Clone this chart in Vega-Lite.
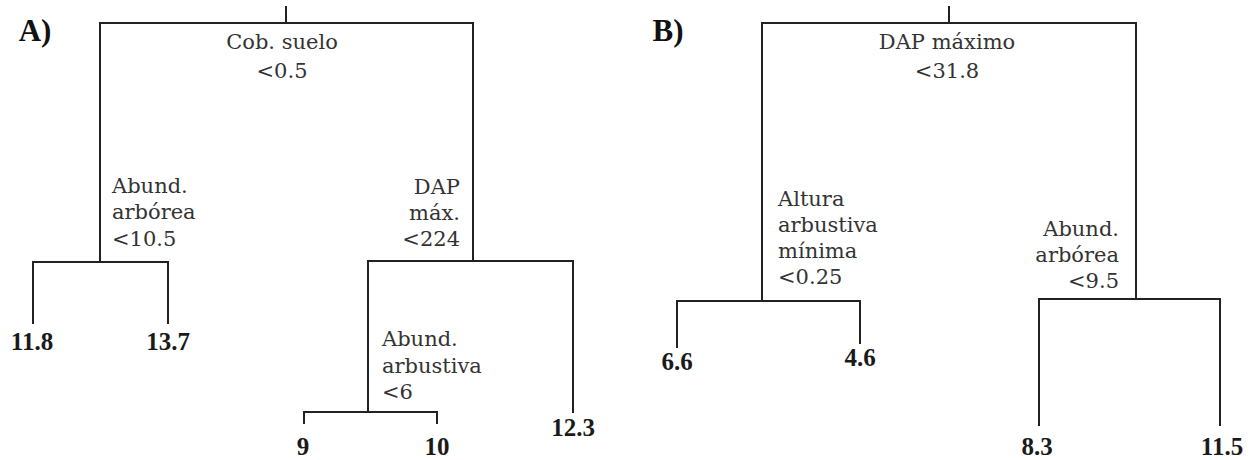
{
  "$schema": "https://vega.github.io/schema/vega-lite/v6.json",
  "width": 1257,
  "height": 460,
  "padding": 0,
  "autosize": {"type": "none"},
  "background": "white",
  "config": {"view": {"stroke": null}},
  "datasets": {
    "edges": [
      {"tree": "A", "x": 286, "x2": 286, "y": 7, "y2": 23},
      {"tree": "A", "x": 100, "x2": 473, "y": 23, "y2": 23},
      {"tree": "A", "x": 100, "x2": 100, "y": 23, "y2": 262},
      {"tree": "A", "x": 473, "x2": 473, "y": 23, "y2": 261},
      {"tree": "A", "x": 33, "x2": 168, "y": 262, "y2": 262},
      {"tree": "A", "x": 33, "x2": 33, "y": 262, "y2": 323},
      {"tree": "A", "x": 168, "x2": 168, "y": 262, "y2": 323},
      {"tree": "A", "x": 368, "x2": 573, "y": 261, "y2": 261},
      {"tree": "A", "x": 573, "x2": 573, "y": 261, "y2": 412},
      {"tree": "A", "x": 368, "x2": 368, "y": 261, "y2": 412},
      {"tree": "A", "x": 304, "x2": 437, "y": 412, "y2": 412},
      {"tree": "A", "x": 304, "x2": 304, "y": 412, "y2": 423},
      {"tree": "A", "x": 437, "x2": 437, "y": 412, "y2": 423},
      {"tree": "B", "x": 949, "x2": 949, "y": 7, "y2": 23},
      {"tree": "B", "x": 762, "x2": 1136, "y": 23, "y2": 23},
      {"tree": "B", "x": 762, "x2": 762, "y": 23, "y2": 301},
      {"tree": "B", "x": 1136, "x2": 1136, "y": 23, "y2": 299},
      {"tree": "B", "x": 677, "x2": 860, "y": 301, "y2": 301},
      {"tree": "B", "x": 677, "x2": 677, "y": 301, "y2": 347},
      {"tree": "B", "x": 860, "x2": 860, "y": 301, "y2": 343},
      {"tree": "B", "x": 1039, "x2": 1220, "y": 299, "y2": 299},
      {"tree": "B", "x": 1039, "x2": 1039, "y": 299, "y2": 425},
      {"tree": "B", "x": 1220, "x2": 1220, "y": 299, "y2": 425}
    ],
    "labels": [
      {"kind": "center", "text": "Cob. suelo", "x": 282, "y": 43},
      {"kind": "center", "text": "<0.5", "x": 282, "y": 72},
      {"kind": "center", "text": "DAP máximo", "x": 947, "y": 43},
      {"kind": "center", "text": "<31.8", "x": 947, "y": 72},
      {"kind": "left", "text": "Abund.", "x": 112, "y": 187},
      {"kind": "left", "text": "arbórea", "x": 112, "y": 213},
      {"kind": "left", "text": "<10.5", "x": 112, "y": 240},
      {"kind": "left", "text": "Abund.", "x": 382, "y": 340},
      {"kind": "left", "text": "arbustiva", "x": 382, "y": 367},
      {"kind": "left", "text": "<6", "x": 382, "y": 393},
      {"kind": "left", "text": "Altura", "x": 778, "y": 200},
      {"kind": "left", "text": "arbustiva", "x": 778, "y": 226},
      {"kind": "left", "text": "mínima", "x": 778, "y": 252},
      {"kind": "left", "text": "<0.25", "x": 778, "y": 278},
      {"kind": "right", "text": "DAP", "x": 460, "y": 188},
      {"kind": "right", "text": "máx.", "x": 460, "y": 214},
      {"kind": "right", "text": "<224", "x": 460, "y": 240},
      {"kind": "right", "text": "Abund.", "x": 1119, "y": 230},
      {"kind": "right", "text": "arbórea", "x": 1119, "y": 256},
      {"kind": "right", "text": "<9.5", "x": 1119, "y": 282},
      {"kind": "leaf", "text": "11.8", "x": 32, "y": 342},
      {"kind": "leaf", "text": "13.7", "x": 168, "y": 342},
      {"kind": "leaf", "text": "9", "x": 303, "y": 447},
      {"kind": "leaf", "text": "10", "x": 437, "y": 447},
      {"kind": "leaf", "text": "12.3", "x": 573, "y": 428},
      {"kind": "leaf", "text": "6.6", "x": 677, "y": 362},
      {"kind": "leaf", "text": "4.6", "x": 860, "y": 358},
      {"kind": "leaf", "text": "8.3", "x": 1037, "y": 447},
      {"kind": "leaf", "text": "11.5", "x": 1222, "y": 447},
      {"kind": "panel", "text": "A)", "x": 35, "y": 32},
      {"kind": "panel", "text": "B)", "x": 668, "y": 32}
    ]
  },
  "layer": [
    {
      "data": {"name": "edges"},
      "mark": {"type": "rule", "color": "#222222", "strokeWidth": 2, "strokeCap": "square"},
      "encoding": {
        "x": {"field": "x", "type": "quantitative", "scale": {"domain": [0, 1257], "nice": false, "zero": false}, "axis": null},
        "x2": {"field": "x2"},
        "y": {"field": "y", "type": "quantitative", "scale": {"domain": [0, 460], "nice": false, "zero": false, "reverse": true}, "axis": null},
        "y2": {"field": "y2"}
      }
    },
    {
      "data": {"name": "labels"},
      "transform": [{"filter": "datum.kind == 'center'"}],
      "mark": {"type": "text", "font": "DejaVu Serif", "fontSize": 21, "color": "#333333", "align": "center", "baseline": "middle"},
      "encoding": {
        "x": {"field": "x", "type": "quantitative"},
        "y": {"field": "y", "type": "quantitative"},
        "text": {"field": "text"}
      }
    },
    {
      "data": {"name": "labels"},
      "transform": [{"filter": "datum.kind == 'left'"}],
      "mark": {"type": "text", "font": "DejaVu Serif", "fontSize": 21, "color": "#333333", "align": "left", "baseline": "middle"},
      "encoding": {
        "x": {"field": "x", "type": "quantitative"},
        "y": {"field": "y", "type": "quantitative"},
        "text": {"field": "text"}
      }
    },
    {
      "data": {"name": "labels"},
      "transform": [{"filter": "datum.kind == 'right'"}],
      "mark": {"type": "text", "font": "DejaVu Serif", "fontSize": 21, "color": "#333333", "align": "right", "baseline": "middle"},
      "encoding": {
        "x": {"field": "x", "type": "quantitative"},
        "y": {"field": "y", "type": "quantitative"},
        "text": {"field": "text"}
      }
    },
    {
      "data": {"name": "labels"},
      "transform": [{"filter": "datum.kind == 'leaf'"}],
      "mark": {"type": "text", "font": "Liberation Serif", "fontSize": 25, "fontWeight": "bold", "color": "#1a1a1a", "align": "center", "baseline": "middle"},
      "encoding": {
        "x": {"field": "x", "type": "quantitative"},
        "y": {"field": "y", "type": "quantitative"},
        "text": {"field": "text"}
      }
    },
    {
      "data": {"name": "labels"},
      "transform": [{"filter": "datum.kind == 'panel'"}],
      "mark": {"type": "text", "font": "Liberation Serif", "fontSize": 31, "fontWeight": "bold", "color": "#111111", "align": "center", "baseline": "middle"},
      "encoding": {
        "x": {"field": "x", "type": "quantitative"},
        "y": {"field": "y", "type": "quantitative"},
        "text": {"field": "text"}
      }
    }
  ]
}
